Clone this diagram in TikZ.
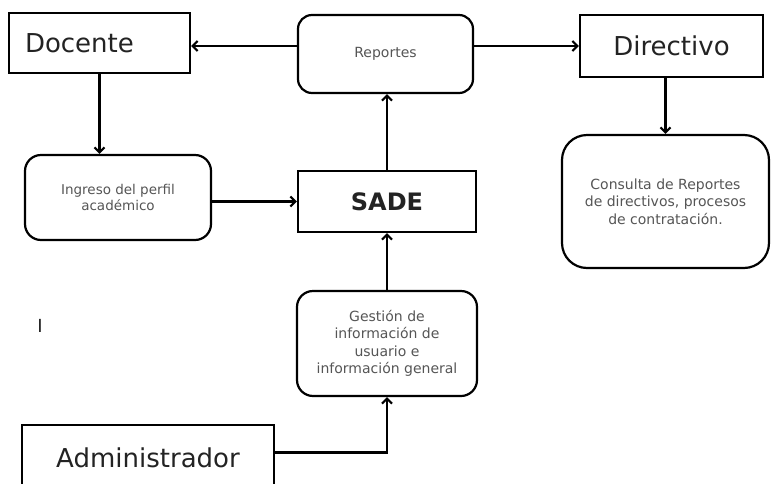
\documentclass[tikz,border=0pt]{standalone}
\usepackage{fontspec}
\setmainfont{DejaVu Sans}
\usepackage{tikz}
\usetikzlibrary{arrows.meta}
\tikzset{>={Straight Barb[length=5pt,width=10pt]}}
\definecolor{textdark}{RGB}{35,35,35}
\definecolor{textgray}{RGB}{85,85,85}
\def\linethickness{2.2pt}
\tikzset{
    actor/.style={draw, line width=\linethickness, text=textdark, inner sep=0pt, font=\fontsize{26}{30}\selectfont},
    process/.style={draw, line width=\linethickness, rounded corners=14pt, text=textgray, align=center, inner sep=0pt, font=\fontsize{14}{17.5}\selectfont},
    flow/.style={->, line width=\linethickness}
}

\begin{document}
\begin{tikzpicture}[x=1pt, y=-1pt]
    \useasboundingbox (0, 0) rectangle (772, 483);
    \clip (0, 0) rectangle (772, 483);
    % actors
    \node[actor, minimum width=181pt, minimum height=60pt, text width=149pt, inner xsep=16pt, align=left] (doc) at (99.5, 43) {Docente};
    \node[actor, minimum width=183pt, minimum height=62pt] (dir) at (671.5, 46) {Directivo};
    \node[actor, minimum width=252pt, minimum height=65pt] (adm) at (148, 457.5) {Administrador};
    \node[actor, minimum width=178pt, minimum height=61pt, font=\fontsize{24}{28}\selectfont\bfseries] (sade) at (387, 201.5) {SADE};
    % processes
    \node[process, minimum width=175pt, minimum height=78pt] (rep) at (385.5, 54) {Reportes};
    \node[process, minimum width=207pt, minimum height=133pt, rounded corners=25pt] (cons) at (665.5, 201.5) {Consulta de Reportes\\de directivos, procesos\\de contratación.};
    \node[process, minimum width=186pt, minimum height=85pt, rounded corners=16pt, font=\fontsize{13.5}{16.5}\selectfont] (ing) at (118, 197.5) {Ingreso del perfil\\académico};
    \node[process, minimum width=180pt, minimum height=105pt, rounded corners=16pt] (gest) at (387, 343.5) {Gestión de\\información de\\usuario e\\información general};
    \node[text=textdark, font=\fontsize{18}{20}\selectfont] (mark) at (40, 326) {I};
    % connectors
    \draw[flow] (rep.west |- dir.west) -- (doc.east |- dir.west);
    \draw[flow] (rep.east |- dir.west) -- (dir.west);
    \draw[flow] (doc.south) -- (doc.south |- ing.north);
    \draw[flow] (cons.north |- dir.south) -- (cons.north);
    \draw[flow] (ing.east |- sade.west) -- (sade.west);
    \draw[flow] (sade.north) -- (sade.north |- rep.south);
    \draw[flow] (gest.north) -- (sade.south);
    \draw[flow] ([yshift=5pt]adm.east) -| (gest.south);
\end{tikzpicture}
\end{document}
